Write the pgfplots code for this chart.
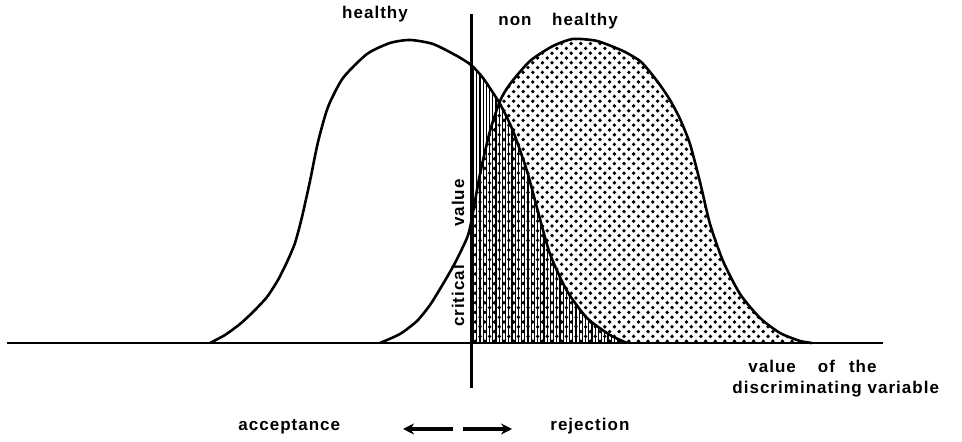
\documentclass[border=0pt]{standalone}
\usepackage{pgfplots}
\pgfplotsset{compat=1.18}
\usepackage{fontspec}
\setmainfont{Liberation Sans}[LetterSpace=6]
\usetikzlibrary{patterns,arrows.meta}

\pgfdeclarepatternformonly{vhatch}{\pgfqpoint{-1pt}{-1pt}}{\pgfqpoint{2.6pt}{2.6pt}}{\pgfqpoint{1.6pt}{1.6pt}}{%
  \pgfsetlinewidth{0.55pt}\pgfpathmoveto{\pgfqpoint{0pt}{0pt}}\pgfpathlineto{\pgfqpoint{0pt}{1.7pt}}\pgfusepath{stroke}}
\pgfdeclarepatternformonly{mydots}{\pgfqpoint{-1pt}{-1pt}}{\pgfqpoint{5.8pt}{5.8pt}}{\pgfqpoint{4.8pt}{4.8pt}}{%
  \pgfpathcircle{\pgfqpoint{0pt}{0pt}}{0.95pt}\pgfpathcircle{\pgfqpoint{2.4pt}{2.4pt}}{0.95pt}\pgfusepath{fill}}

% healthy distribution (x in px, height above baseline in px)
\pgfplotstableread{
x h
210 0
225 8
240 19
253 31
267 46
278 63
287 81
295 100
302 126
310 162
318 201
328 236
343 265
367 289
390 300
410 303
433 299
457 287
471 278
483 265
500 239
513 212
527 172
537 135
550 89
567 52
587 25
610 8
627 0
}\healthy
\pgfplotstableread{
x h
471 278
483 265
500 239
513 212
527 172
537 135
550 89
567 52
587 25
610 8
627 0
}\healthyright
% non healthy distribution
\pgfplotstableread{
x h
380 0
400 9
417 22
430 38
443 59
455 80
467 105
471 120
480 169
490 212
500 242
510 259
530 282
553 297
573 304
597 302
623 292
640 282
650 271
660 258
670 243
680 224
690 199
700 161
710 119
723 82
740 49
760 25
780 10
800 2
812 0
}\nonhealthy
\pgfplotstableread{
x h
471 120
480 169
490 212
500 242
510 259
530 282
553 297
573 304
597 302
623 292
640 282
650 271
660 258
670 243
680 224
690 199
700 161
710 119
723 82
740 49
760 25
780 10
800 2
812 0
}\nonhealthyright

\begin{document}
\begin{tikzpicture}
\begin{axis}[width=481pt, height=220.5pt, scale only axis,
  xmin=0, xmax=962, ymin=-99, ymax=342, hide axis, clip=false]
\path (rel axis cs:0,0) rectangle (rel axis cs:1,1);
\addplot[draw=none, pattern=mydots, smooth, tension=0.4] table[x=x,y=h] {\nonhealthyright} \closedcycle;
\addplot[draw=none, pattern=vhatch, smooth, tension=0.4] table[x=x,y=h] {\healthyright} \closedcycle;
\addplot[line width=1.3pt, smooth, tension=0.4] table[x=x,y=h] {\healthy};
\addplot[line width=1.3pt, smooth, tension=0.4] table[x=x,y=h] {\nonhealthy};
\addplot[line width=1.3pt] coordinates {(7,0) (883,0)};
\addplot[line width=1.5pt] coordinates {(471,329) (471,-45)};
\addplot[line width=1.7pt, -{Stealth[length=5.5pt,width=5.5pt]}] coordinates {(453,-86) (403,-86)};
\addplot[line width=1.7pt, -{Stealth[length=5.5pt,width=5.5pt]}] coordinates {(463,-86) (512,-86)};
\node[anchor=base, font=\bfseries\fontsize{8.5}{10}\selectfont] at (axis cs:375,324) {healthy};
\node[anchor=base, font=\bfseries\fontsize{8.5}{10}\selectfont] at (axis cs:515,317) {non};
\node[anchor=base, font=\bfseries\fontsize{8.5}{10}\selectfont] at (axis cs:585,317) {healthy};
\node[rotate=90, font=\bfseries\fontsize{8.5}{10}\selectfont] at (axis cs:458,47) {critical};
\node[rotate=90, font=\bfseries\fontsize{8.5}{10}\selectfont] at (axis cs:458,140) {value};
\node[anchor=base west, inner sep=0pt, font=\bfseries\fontsize{8.5}{10}\selectfont] at (axis cs:748,-30) {value\hspace{11pt}of\hspace{7pt}the};
\node[anchor=base west, inner sep=0pt, font=\bfseries\fontsize{8.5}{10}\selectfont] at (axis cs:732,-51) {discriminating variable};
\node[anchor=base west, inner sep=0pt, font=\bfseries\fontsize{8.5}{10}\selectfont] at (axis cs:238,-88) {acceptance};
\node[anchor=base west, inner sep=0pt, font=\bfseries\fontsize{8.5}{10}\selectfont] at (axis cs:550,-88) {rejection};
\end{axis}
\end{tikzpicture}
\end{document}
